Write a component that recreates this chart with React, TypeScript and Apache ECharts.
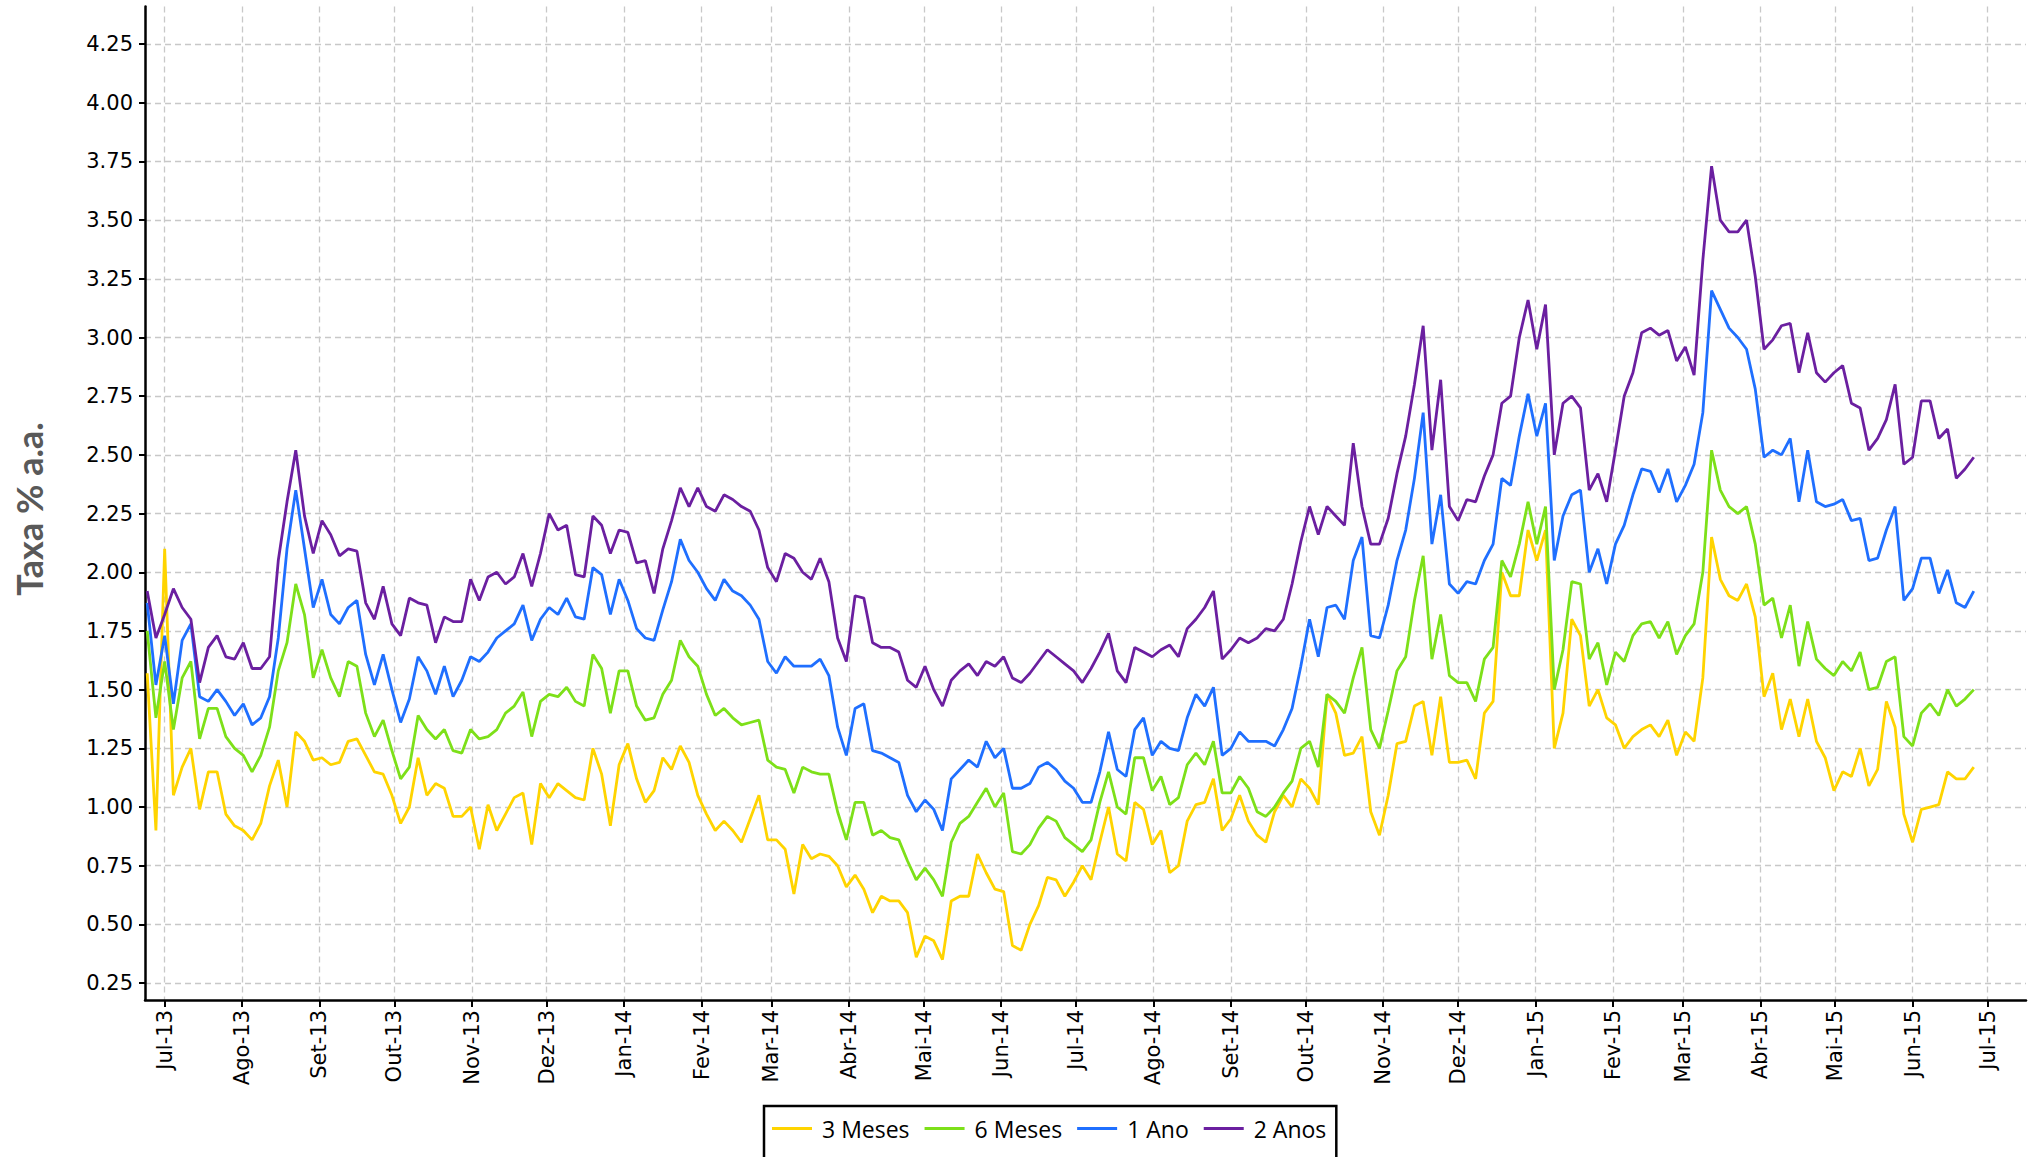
import React, { useEffect, useRef } from 'react';
import * as echarts from 'echarts';

const seriesNames = ['3 Meses', '6 Meses', '1 Ano', '2 Anos'];
const seriesColors = ['#FFD400', '#7DE019', '#1F6FFF', '#6B1FA0'];
const monthNames = ['Jan', 'Fev', 'Mar', 'Abr', 'Mai', 'Jun', 'Jul', 'Ago', 'Set', 'Out', 'Nov', 'Dez'];
const monthTicks = [
  '2013-07-01', '2013-08-01', '2013-09-01', '2013-10-01', '2013-11-01', '2013-12-01',
  '2014-01-01', '2014-02-01', '2014-03-01', '2014-04-01', '2014-05-01', '2014-06-01',
  '2014-07-01', '2014-08-01', '2014-09-01', '2014-10-01', '2014-11-01', '2014-12-01',
  '2015-01-01', '2015-02-01', '2015-03-01', '2015-04-01', '2015-05-01', '2015-06-01',
  '2015-07-01',
];
const yTicks = [0.25, 0.5, 0.75, 1.0, 1.25, 1.5, 1.75, 2.0, 2.25, 2.5, 2.75, 3.0, 3.25, 3.5, 3.75, 4.0, 4.25];
const yAxisTitle = 'Taxa % a.a.';

// sampling grid: every 3.5 days starting 2013-06-24
const firstSample = '2013-06-24';
const sampleStepDays = 3.5;

const meses3 = [
  1.57, 0.90, 2.10, 1.05, 1.17, 1.25, 0.99, 1.15, 1.15, 0.97,
  0.92, 0.90, 0.86, 0.93, 1.09, 1.20, 1.00, 1.32, 1.28, 1.20,
  1.21, 1.18, 1.19, 1.28, 1.29, 1.22, 1.15, 1.14, 1.05, 0.93,
  1.00, 1.21, 1.05, 1.10, 1.08, 0.96, 0.96, 1.00, 0.82, 1.01,
  0.90, 0.97, 1.04, 1.06, 0.84, 1.10, 1.04, 1.10, 1.07, 1.04,
  1.03, 1.25, 1.14, 0.92, 1.18, 1.27, 1.12, 1.02, 1.07, 1.21,
  1.16, 1.26, 1.19, 1.05, 0.97, 0.90, 0.94, 0.90, 0.85, 0.95,
  1.05, 0.86, 0.86, 0.82, 0.63, 0.84, 0.78, 0.80, 0.79, 0.75,
  0.66, 0.71, 0.65, 0.55, 0.62, 0.60, 0.60, 0.55, 0.36, 0.45,
  0.43, 0.35, 0.60, 0.62, 0.62, 0.80, 0.72, 0.65, 0.64, 0.41,
  0.39, 0.50, 0.58, 0.70, 0.69, 0.62, 0.68, 0.75, 0.69, 0.85,
  1.00, 0.80, 0.77, 1.02, 0.99, 0.84, 0.90, 0.72, 0.75, 0.94,
  1.01, 1.02, 1.12, 0.90, 0.95, 1.05, 0.94, 0.88, 0.85, 0.98,
  1.05, 1.00, 1.12, 1.08, 1.01, 1.48, 1.40, 1.22, 1.23, 1.30,
  0.98, 0.88, 1.05, 1.27, 1.28, 1.43, 1.45, 1.22, 1.47, 1.19,
  1.19, 1.20, 1.12, 1.40, 1.45, 2.00, 1.90, 1.90, 2.18, 2.05,
  2.18, 1.25, 1.40, 1.80, 1.73, 1.43, 1.50, 1.38, 1.35, 1.25,
  1.30, 1.33, 1.35, 1.30, 1.37, 1.22, 1.32, 1.28, 1.55, 2.15,
  1.97, 1.90, 1.88, 1.95, 1.81, 1.47, 1.57, 1.33, 1.46, 1.30,
  1.46, 1.28, 1.21, 1.07, 1.15, 1.13, 1.25, 1.09, 1.16, 1.45,
  1.34, 0.97, 0.85, 0.99, 1.00, 1.01, 1.15, 1.12, 1.12, 1.17,
];

const meses6 = [
  1.75, 1.38, 1.62, 1.33, 1.55, 1.62, 1.29, 1.42, 1.42, 1.30,
  1.25, 1.22, 1.15, 1.22, 1.34, 1.58, 1.70, 1.95, 1.82, 1.55,
  1.67, 1.55, 1.47, 1.62, 1.60, 1.40, 1.30, 1.37, 1.24, 1.12,
  1.17, 1.39, 1.33, 1.29, 1.33, 1.24, 1.23, 1.33, 1.29, 1.30,
  1.33, 1.40, 1.43, 1.49, 1.30, 1.45, 1.48, 1.47, 1.51, 1.45,
  1.43, 1.65, 1.59, 1.40, 1.58, 1.58, 1.43, 1.37, 1.38, 1.48,
  1.54, 1.71, 1.64, 1.60, 1.48, 1.39, 1.42, 1.38, 1.35, 1.36,
  1.37, 1.20, 1.17, 1.16, 1.06, 1.17, 1.15, 1.14, 1.14, 0.98,
  0.86, 1.02, 1.02, 0.88, 0.90, 0.87, 0.86, 0.77, 0.69, 0.74,
  0.69, 0.62, 0.85, 0.93, 0.96, 1.02, 1.08, 1.00, 1.06, 0.81,
  0.80, 0.84, 0.91, 0.96, 0.94, 0.87, 0.84, 0.81, 0.86, 1.02,
  1.15, 1.00, 0.97, 1.21, 1.21, 1.07, 1.13, 1.01, 1.04, 1.18,
  1.23, 1.18, 1.28, 1.06, 1.06, 1.13, 1.08, 0.98, 0.96, 1.00,
  1.06, 1.11, 1.25, 1.28, 1.17, 1.48, 1.45, 1.40, 1.55, 1.68,
  1.33, 1.25, 1.41, 1.58, 1.64, 1.88, 2.07, 1.63, 1.82, 1.56,
  1.53, 1.53, 1.45, 1.63, 1.68, 2.05, 1.98, 2.12, 2.30, 2.12,
  2.28, 1.50, 1.67, 1.96, 1.95, 1.63, 1.70, 1.52, 1.66, 1.62,
  1.73, 1.78, 1.79, 1.72, 1.79, 1.65, 1.73, 1.78, 2.00, 2.52,
  2.35, 2.28, 2.25, 2.28, 2.12, 1.86, 1.89, 1.72, 1.86, 1.60,
  1.79, 1.63, 1.59, 1.56, 1.62, 1.58, 1.66, 1.50, 1.51, 1.62,
  1.64, 1.30, 1.26, 1.40, 1.44, 1.39, 1.50, 1.43, 1.46, 1.50,
];

const ano1 = [
  1.87, 1.52, 1.73, 1.44, 1.71, 1.78, 1.47, 1.45, 1.50, 1.45,
  1.39, 1.44, 1.35, 1.38, 1.47, 1.72, 2.10, 2.35, 2.10, 1.85,
  1.97, 1.82, 1.78, 1.85, 1.88, 1.65, 1.52, 1.65, 1.50, 1.36,
  1.46, 1.64, 1.58, 1.48, 1.60, 1.47, 1.54, 1.64, 1.62, 1.66,
  1.72, 1.75, 1.78, 1.86, 1.71, 1.80, 1.85, 1.82, 1.89, 1.81,
  1.80, 2.02, 1.99, 1.82, 1.97, 1.88, 1.76, 1.72, 1.71, 1.84,
  1.96, 2.14, 2.05, 2.00, 1.93, 1.88, 1.97, 1.92, 1.90, 1.86,
  1.80, 1.62, 1.57, 1.64, 1.60, 1.60, 1.60, 1.63, 1.56, 1.34,
  1.22, 1.42, 1.44, 1.24, 1.23, 1.21, 1.19, 1.05, 0.98, 1.03,
  0.99, 0.90, 1.12, 1.16, 1.20, 1.17, 1.28, 1.21, 1.25, 1.08,
  1.08, 1.10, 1.17, 1.19, 1.16, 1.11, 1.08, 1.02, 1.02, 1.15,
  1.32, 1.16, 1.13, 1.33, 1.38, 1.22, 1.28, 1.25, 1.24, 1.38,
  1.48, 1.43, 1.51, 1.22, 1.25, 1.32, 1.28, 1.28, 1.28, 1.26,
  1.33, 1.42, 1.60, 1.80, 1.64, 1.85, 1.86, 1.80, 2.05, 2.15,
  1.73, 1.72, 1.86, 2.05, 2.18, 2.40, 2.68, 2.12, 2.33, 1.95,
  1.91, 1.96, 1.95, 2.05, 2.12, 2.40, 2.37, 2.58, 2.76, 2.58,
  2.72, 2.05, 2.24, 2.33, 2.35, 2.00, 2.10, 1.95, 2.12, 2.20,
  2.33, 2.44, 2.43, 2.34, 2.44, 2.30, 2.37, 2.46, 2.68, 3.20,
  3.12, 3.04, 3.00, 2.95, 2.78, 2.49, 2.52, 2.50, 2.57, 2.30,
  2.52, 2.30, 2.28, 2.29, 2.31, 2.22, 2.23, 2.05, 2.06, 2.18,
  2.28, 1.88, 1.93, 2.06, 2.06, 1.91, 2.01, 1.87, 1.85, 1.92,
];

const anos2 = [
  1.92, 1.72, 1.82, 1.93, 1.85, 1.80, 1.53, 1.68, 1.73, 1.64,
  1.63, 1.70, 1.59, 1.59, 1.64, 2.05, 2.30, 2.52, 2.24, 2.08,
  2.22, 2.16, 2.07, 2.10, 2.09, 1.87, 1.80, 1.94, 1.78, 1.73,
  1.89, 1.87, 1.86, 1.70, 1.81, 1.79, 1.79, 1.97, 1.88, 1.98,
  2.00, 1.95, 1.98, 2.08, 1.94, 2.08, 2.25, 2.18, 2.20, 1.99,
  1.98, 2.24, 2.20, 2.08, 2.18, 2.17, 2.04, 2.05, 1.91, 2.10,
  2.22, 2.36, 2.28, 2.36, 2.28, 2.26, 2.33, 2.31, 2.28, 2.26,
  2.18, 2.02, 1.96, 2.08, 2.06, 2.00, 1.97, 2.06, 1.96, 1.72,
  1.62, 1.90, 1.89, 1.70, 1.68, 1.68, 1.66, 1.54, 1.51, 1.60,
  1.50, 1.43, 1.54, 1.58, 1.61, 1.56, 1.62, 1.60, 1.64, 1.55,
  1.53, 1.57, 1.62, 1.67, 1.64, 1.61, 1.58, 1.53, 1.59, 1.66,
  1.74, 1.58, 1.53, 1.68, 1.66, 1.64, 1.67, 1.69, 1.64, 1.76,
  1.80, 1.85, 1.92, 1.63, 1.67, 1.72, 1.70, 1.72, 1.76, 1.75,
  1.80, 1.95, 2.13, 2.28, 2.16, 2.28, 2.24, 2.20, 2.55, 2.28,
  2.12, 2.12, 2.23, 2.42, 2.58, 2.80, 3.05, 2.52, 2.82, 2.28,
  2.22, 2.31, 2.30, 2.41, 2.50, 2.72, 2.75, 3.00, 3.16, 2.95,
  3.14, 2.50, 2.72, 2.75, 2.70, 2.35, 2.42, 2.30, 2.52, 2.75,
  2.85, 3.02, 3.04, 3.01, 3.03, 2.90, 2.96, 2.84, 3.33, 3.73,
  3.50, 3.45, 3.45, 3.50, 3.26, 2.95, 2.99, 3.05, 3.06, 2.85,
  3.02, 2.85, 2.81, 2.85, 2.88, 2.72, 2.70, 2.52, 2.57, 2.65,
  2.80, 2.46, 2.49, 2.73, 2.73, 2.57, 2.61, 2.40, 2.44, 2.49,
];

const seriesValues = [meses3, meses6, ano1, anos2];

const DAY = 86400000;
const toUTC = (s: string) => {
  const [y, m, d] = s.split('-').map(Number);
  return Date.UTC(y, m - 1, d);
};

export default function App() {
  const ref = useRef<HTMLDivElement>(null);

  useEffect(() => {
    if (!ref.current) return;
    const chart = echarts.init(ref.current, null, { renderer: 'svg' });
    const start = toUTC(firstSample);
    const monthTs = monthTicks.map(toUTC);
    const xMin = Date.UTC(2013, 5, 23, 3);
    const xMax = Date.UTC(2015, 6, 16, 10);

    const gridLine = { show: true, lineStyle: { color: '#c8c8c8', type: [6, 4], width: 1.3 } };
    const tickFont = { fontFamily: 'DejaVu Sans', fontSize: 21, color: '#000' };

    const option: any = {
      animation: false,
      backgroundColor: '#fff',
      grid: { left: 145, right: 8, top: 6.5, bottom: 157, containLabel: false },
      xAxis: {
        type: 'value',
        min: xMin,
        max: xMax,
        scale: true,
        axisLine: { show: true, onZero: false, lineStyle: { color: '#000', width: 2.5 } },
        axisTick: { show: true, length: 7, customValues: monthTs, lineStyle: { color: '#000', width: 2 } },
        axisLabel: {
          ...tickFont,
          customValues: monthTs,
          rotate: 90,
          margin: 10,
          hideOverlap: false,
          formatter: (v: number) => {
            const d = new Date(v);
            return monthNames[d.getUTCMonth()] + '-' + String(d.getUTCFullYear()).slice(2);
          },
        },
        splitLine: gridLine,
      },
      yAxis: {
        type: 'value',
        min: 0.178,
        max: 4.41,
        axisLine: { show: true, lineStyle: { color: '#000', width: 2.5 } },
        axisTick: { show: true, length: 6, customValues: yTicks, lineStyle: { color: '#000', width: 2 } },
        axisLabel: {
          ...tickFont,
          customValues: yTicks,
          margin: 12,
          formatter: (v: number) => v.toFixed(2),
        },
        splitLine: gridLine,
      },
      legend: {
        left: 764,
        top: 1106,
        orient: 'horizontal',
        icon: 'rect',
        itemWidth: 40,
        itemHeight: 3,
        itemGap: 15,
        padding: [11, 10, 23, 8],
        borderColor: '#000',
        borderWidth: 2.5,
        backgroundColor: '#fff',
        data: seriesNames,
        textStyle: { fontFamily: 'Open Sans', fontSize: 23, color: '#000', padding: [0, 0, 0, 5] },
      },
      graphic: [
        {
          type: 'text',
          x: 29,
          y: 509,
          rotation: Math.PI / 2,
          style: {
            text: yAxisTitle,
            fontFamily: 'Lato',
            fontWeight: 'bold',
            fontSize: 36,
            fill: '#595959',
            textAlign: 'center',
            textVerticalAlign: 'middle',
          },
        },
      ],
      series: seriesNames.map((name, k) => ({
        name,
        type: 'line',
        showSymbol: false,
        symbol: 'none',
        color: seriesColors[k],
        lineStyle: { width: 2.8, color: seriesColors[k] },
        data: seriesValues[k].map((v, i) => [start + i * sampleStepDays * DAY, v]),
      })),
    };
    chart.setOption(option);
    return () => chart.dispose();
  }, []);

  return (
    <div
      ref={ref}
      style={{ position: 'fixed', left: 0, top: 0, width: 2034, height: 1157, background: '#fff' }}
    />
  );
}
